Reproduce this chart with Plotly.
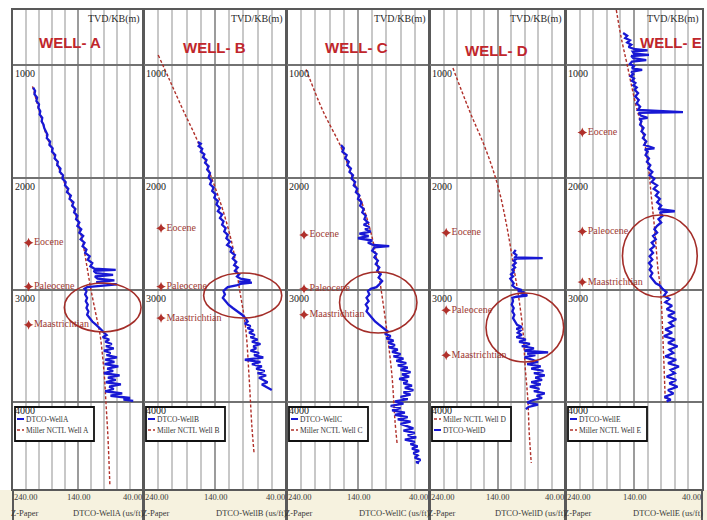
import plotly.graph_objects as go

W, H = 707, 520

# ---------------------------------------------------------------
# Log values: (TVD below KB in m, sonic DTCO in us/ft)
# ---------------------------------------------------------------
WELLS = ["A", "B", "C", "D", "E"]

# Miller normal compaction trend lines
A_NCTL = [(1190, 210), (1400, 200), (1600, 190), (1800, 177), (2000, 164), (2200, 151),
          (2400, 140), (2600, 132), (2800, 126), (3000, 120), (3200, 113), (3400, 106),
          (3600, 102), (3800, 99), (4000, 97), (4300, 94), (4730, 91)]
B_NCTL = [(911, 220), (1133, 204), (1400, 185), (1684, 164), (2000, 145), (2289, 129),
          (2618, 115), (2973, 106), (3329, 97), (3773, 92), (4218, 88), (4449, 85)]
C_NCTL = [(1040, 213), (1400, 190), (1729, 164), (2000, 148), (2289, 131), (2618, 117),
          (2973, 108), (3382, 99), (3773, 92), (4156, 88), (4360, 85)]
D_NCTL = [(1027, 206), (1400, 182), (1756, 157), (2084, 139), (2440, 126), (2796, 116),
          (3089, 108), (3382, 102), (3684, 99), (3978, 95), (4271, 93), (4538, 90)]
E_NCTL = [(511, 166), (751, 159), (1000, 150), (1311, 139), (1600, 127), (1900, 119),
          (2200, 114), (2500, 109), (2800, 105), (3000, 101), (3500, 97), (3990, 94)]

# Measured compressional slowness
A_DTCO = [(1200, 209), (1230, 206), (1260, 207), (1290, 203), (1320, 204), (1350, 200), (1380, 201),
          (1410, 198), (1440, 199), (1470, 195), (1500, 196), (1530, 193), (1560, 192), (1590, 190),
          (1620, 187), (1650, 188), (1680, 183), (1710, 184), (1740, 179), (1770, 180), (1800, 175),
          (1830, 176), (1860, 171), (1890, 172), (1920, 167), (1950, 168), (1980, 163), (2010, 164),
          (2040, 159), (2070, 160), (2100, 155), (2130, 157), (2160, 151), (2190, 153), (2220, 147),
          (2250, 149), (2280, 144), (2310, 146), (2340, 141), (2370, 143), (2400, 138), (2430, 141),
          (2460, 135), (2490, 138), (2520, 132), (2550, 136), (2580, 130), (2610, 133), (2640, 127),
          (2670, 129), (2700, 122), (2730, 125), (2760, 118), (2790, 121), (2810, 115), (2822, 82),
          (2830, 116), (2850, 112), (2865, 86), (2880, 114), (2900, 110), (2915, 84), (2930, 112),
          (2950, 80), (2965, 104), (2975, 126), (2990, 130), (3010, 127), (3040, 129), (3070, 126),
          (3100, 128), (3130, 125), (3160, 127), (3190, 124), (3220, 126), (3250, 122), (3280, 118),
          (3310, 112), (3340, 106), (3360, 103), (3380, 100), (3400, 96), (3420, 102), (3440, 92),
          (3460, 98), (3480, 88), (3500, 97), (3520, 85), (3540, 100), (3560, 90), (3580, 96),
          (3600, 80), (3620, 98), (3640, 84), (3660, 99), (3680, 78), (3700, 95), (3720, 86),
          (3740, 100), (3760, 76), (3780, 94), (3800, 82), (3820, 97), (3840, 74), (3860, 92),
          (3880, 85), (3900, 98), (3920, 72), (3940, 90), (3960, 60), (3975, 70), (3985, 55)]
B_DTCO = [(1684, 164), (1700, 160), (1720, 163), (1745, 158), (1770, 160), (1795, 155), (1820, 157),
          (1845, 152), (1870, 154), (1900, 149), (1930, 151), (1960, 147), (2000, 149), (2030, 145),
          (2060, 147), (2090, 142), (2120, 144), (2150, 139), (2180, 141), (2210, 136), (2240, 138),
          (2270, 133), (2300, 136), (2330, 130), (2360, 133), (2390, 128), (2420, 130), (2450, 125),
          (2480, 127), (2510, 122), (2540, 124), (2570, 119), (2600, 123), (2630, 116), (2660, 118),
          (2690, 112), (2720, 115), (2750, 110), (2780, 113), (2800, 108), (2830, 112), (2860, 106),
          (2880, 109), (2900, 104), (2915, 90), (2925, 106), (2935, 88), (2945, 104), (2960, 110),
          (2975, 122), (2990, 125), (3010, 128), (3040, 126), (3070, 129), (3100, 125), (3130, 121),
          (3160, 115), (3190, 108), (3220, 102), (3250, 97), (3280, 94), (3300, 98), (3320, 90),
          (3340, 94), (3360, 86), (3380, 92), (3400, 84), (3420, 90), (3440, 80), (3460, 88),
          (3480, 76), (3500, 86), (3520, 82), (3540, 90), (3560, 78), (3580, 85), (3600, 72),
          (3620, 98), (3640, 76), (3660, 88), (3680, 74), (3700, 82), (3720, 70), (3740, 80),
          (3760, 68), (3780, 78), (3800, 72), (3820, 66), (3840, 74), (3860, 68), (3880, 62),
          (3890, 60)]
C_DTCO = [(1711, 164), (1740, 160), (1770, 162), (1800, 156), (1830, 158), (1860, 153), (1890, 155),
          (1920, 150), (1950, 152), (1980, 147), (2010, 149), (2040, 144), (2070, 146), (2100, 141),
          (2130, 143), (2160, 138), (2190, 140), (2220, 135), (2250, 137), (2280, 132), (2310, 134),
          (2340, 129), (2370, 131), (2400, 126), (2420, 132), (2440, 124), (2460, 130), (2480, 122),
          (2500, 138), (2520, 125), (2540, 140), (2560, 120), (2580, 126), (2600, 118), (2610, 96),
          (2620, 117), (2650, 120), (2680, 114), (2710, 117), (2740, 112), (2770, 115), (2800, 110),
          (2830, 113), (2860, 108), (2890, 111), (2920, 106), (2950, 110), (2975, 114), (2990, 122),
          (3010, 126), (3040, 124), (3070, 128), (3100, 125), (3130, 129), (3160, 126), (3190, 128),
          (3220, 124), (3250, 120), (3280, 116), (3310, 110), (3340, 104), (3370, 98), (3390, 102),
          (3410, 94), (3430, 100), (3450, 90), (3470, 97), (3490, 88), (3510, 96), (3530, 84),
          (3550, 92), (3570, 80), (3590, 90), (3610, 76), (3630, 86), (3650, 72), (3670, 84),
          (3690, 70), (3710, 80), (3730, 66), (3750, 78), (3770, 68), (3790, 82), (3810, 70),
          (3830, 76), (3850, 64), (3870, 74), (3890, 62), (3910, 76), (3930, 66), (3950, 80),
          (3970, 70), (3990, 88), (4010, 76), (4030, 94), (4050, 80), (4070, 92), (4090, 74),
          (4110, 88), (4130, 70), (4150, 84), (4170, 66), (4190, 80), (4210, 72), (4230, 62),
          (4250, 76), (4270, 60), (4290, 70), (4310, 58), (4330, 74), (4350, 60), (4370, 66),
          (4390, 56), (4410, 64), (4430, 54), (4450, 62), (4470, 56), (4490, 60), (4510, 52),
          (4530, 58), (4540, 54)]
D_DTCO = [(2644, 113), (2670, 116), (2690, 112), (2710, 114), (2716, 73), (2722, 112), (2740, 116),
          (2760, 113), (2780, 117), (2800, 114), (2820, 118), (2840, 116), (2860, 120), (2880, 117),
          (2900, 121), (2920, 119), (2940, 116), (2960, 118), (2980, 114), (3000, 104), (3010, 110),
          (3020, 100), (3030, 106), (3040, 98), (3050, 96), (3060, 112), (3070, 118), (3100, 117),
          (3130, 119), (3160, 116), (3190, 118), (3220, 115), (3250, 117), (3280, 114), (3310, 111),
          (3330, 104), (3345, 112), (3360, 106), (3380, 110), (3400, 104), (3420, 112), (3440, 98),
          (3460, 108), (3480, 92), (3500, 104), (3520, 86), (3540, 100), (3555, 65), (3565, 96),
          (3580, 84), (3600, 100), (3620, 88), (3640, 80), (3660, 96), (3680, 76), (3700, 90),
          (3720, 72), (3740, 86), (3760, 70), (3780, 84), (3800, 74), (3820, 90), (3840, 76),
          (3860, 92), (3880, 78), (3900, 86), (3920, 70), (3940, 82), (3960, 74), (3980, 88),
          (4000, 96), (4020, 80), (4040, 94), (4060, 98)]
E_DTCO = [(716, 156), (740, 150), (760, 153), (780, 146), (800, 150), (820, 144), (840, 148),
          (860, 138), (870, 120), (880, 142), (900, 140), (910, 118), (920, 144), (940, 141),
          (956, 122), (970, 143), (990, 146), (1010, 140), (1030, 143), (1044, 128), (1060, 144),
          (1080, 141), (1100, 145), (1120, 140), (1140, 143), (1160, 138), (1180, 141), (1200, 136),
          (1220, 139), (1250, 134), (1280, 138), (1310, 133), (1340, 136), (1370, 131), (1400, 134),
          (1418, 68), (1425, 133), (1450, 130), (1470, 120), (1480, 132), (1500, 129), (1530, 131),
          (1560, 126), (1590, 129), (1620, 124), (1650, 127), (1680, 122), (1710, 125), (1740, 110),
          (1750, 124), (1770, 120), (1800, 123), (1830, 118), (1860, 121), (1890, 116), (1920, 119),
          (1950, 113), (1980, 117), (2010, 110), (2040, 114), (2070, 106), (2100, 111), (2130, 104),
          (2160, 108), (2190, 102), (2220, 106), (2250, 100), (2280, 104), (2300, 80), (2310, 102),
          (2340, 98), (2370, 104), (2400, 100), (2430, 106), (2460, 110), (2490, 106), (2520, 112),
          (2550, 108), (2580, 114), (2610, 110), (2640, 116), (2670, 112), (2700, 117), (2730, 113),
          (2760, 118), (2790, 114), (2820, 117), (2850, 113), (2880, 116), (2910, 112), (2940, 108),
          (2960, 102), (2990, 98), (3020, 92), (3050, 96), (3080, 88), (3110, 94), (3140, 84),
          (3170, 92), (3200, 80), (3230, 90), (3260, 78), (3290, 88), (3320, 82), (3350, 94),
          (3380, 84), (3410, 96), (3440, 80), (3470, 90), (3500, 76), (3530, 88), (3560, 82),
          (3590, 94), (3620, 78), (3650, 90), (3680, 74), (3710, 86), (3740, 80), (3770, 92),
          (3800, 78), (3830, 88), (3860, 76), (3890, 90), (3920, 82), (3950, 95), (3975, 86),
          (3990, 92)]

# Formation tops (m)
FORMATIONS = ["Eocene", "Paleocene", "Maastrichtian"]
A_TOPS = [2580, 2970, 3310]
B_TOPS = [2450, 2970, 3250]
C_TOPS = [2510, 2990, 3220]
D_TOPS = [2490, 3180, 3580]
E_TOPS = [1600, 2480, 2930]

# Overpressure zones circled on each track: (DT left, DT right, depth top, depth bottom)
A_ZONE = (161, 43, 2938, 3373)
B_ZONE = (156, 46, 2849, 3249)
C_ZONE = (166, 57, 2840, 3382)
D_ZONE = (157, 42, 3027, 3640)
E_ZONE = (157, 47, 2333, 3062)

DEPTH_TICKS = [1000, 2000, 3000, 4000]
DT_TICKS = [240, 140, 40]
DT_TICK_TEXT = ["240.00", "140.00", "40.00"]

NCTL = [A_NCTL, B_NCTL, C_NCTL, D_NCTL, E_NCTL]
DTCO = [A_DTCO, B_DTCO, C_DTCO, D_DTCO, E_DTCO]
TOPS = [A_TOPS, B_TOPS, C_TOPS, D_TOPS, E_TOPS]
ZONES = [A_ZONE, B_ZONE, C_ZONE, D_ZONE, E_ZONE]

# ---------------------------------------------------------------
# Layout geometry (pixels) and styling
# ---------------------------------------------------------------
PANEL_X = [(13, 143), (144, 286), (287, 429), (430, 565), (566, 702)]
PLOT_TOP, PLOT_BOTTOM = 10, 489
DEPTH_RANGE = [4769, 511]
DT_RANGE = [240, 40]
TITLE_POS = [(152, 804), (141, 840), (142, 840), (141, 867), (86, 804)]
LEGEND_NCTL_FIRST = [False, False, False, True, False]
FORM_DT = 216

BLUE = "#1818d4"
RED_DASH = "#b0302a"
ZONE_RED = "#a32d28"
TITLE_RED = "#c0262c"
SERIF = "Liberation Serif, Times New Roman, serif"
SANS = "Liberation Sans, Arial, sans-serif"


def px(x):
    return x / W


def py(y):
    return 1 - y / H


fig = go.Figure()
annotations = []
shapes = []

# footer band with the scale labels
shapes.append(dict(type="rect", xref="paper", yref="paper", x0=0, x1=1,
                   y0=0, y1=py(PLOT_BOTTOM + 1), fillcolor="#f6f2df",
                   line=dict(width=0), layer="below"))

for i, well in enumerate(WELLS):
    n = i + 1
    sfx = "" if n == 1 else str(n)
    xa, ya = "x" + sfx, "y" + sfx
    L, R = PANEL_X[i]

    fig.update_layout({
        "xaxis" + sfx: dict(domain=[px(L), px(R)], range=DT_RANGE, anchor=ya,
                            tick0=40, dtick=100, showgrid=True, gridcolor="#9c9c9c",
                            gridwidth=1.5,
                            minor=dict(tick0=40, dtick=20, showgrid=True,
                                       gridcolor="#c8c8c8", gridwidth=1.5),
                            showticklabels=False, ticks="", zeroline=False,
                            showline=True, mirror=True, linecolor="#595959",
                            linewidth=2, fixedrange=True),
        "yaxis" + sfx: dict(domain=[py(PLOT_BOTTOM), py(PLOT_TOP)], range=DEPTH_RANGE,
                            anchor=xa, tick0=0, dtick=1000, showgrid=True,
                            gridcolor="#727272", gridwidth=2, showticklabels=False,
                            ticks="", zeroline=False, showline=True, mirror=True,
                            linecolor="#595959", linewidth=2, fixedrange=True),
    })

    nctl = NCTL[i]
    dtco = DTCO[i]
    fig.add_trace(go.Scatter(
        x=[p[1] for p in nctl], y=[p[0] for p in nctl], xaxis=xa, yaxis=ya,
        mode="lines", line=dict(color=RED_DASH, width=1.4, dash="3px,2px", shape="spline"),
        name="Miller NCTL Well " + well, showlegend=False, hoverinfo="skip"))
    fig.add_trace(go.Scatter(
        x=[p[1] for p in dtco], y=[p[0] for p in dtco], xaxis=xa, yaxis=ya,
        mode="lines", line=dict(color=BLUE, width=2.3),
        name="DTCO-Well" + well, showlegend=False, hoverinfo="skip"))
    fig.add_trace(go.Scatter(
        x=[FORM_DT] * len(TOPS[i]), y=TOPS[i], xaxis=xa, yaxis=ya,
        mode="markers+text", text=FORMATIONS, textposition="middle right",
        marker=dict(symbol="star-diamond", size=7, color=RED_DASH),
        textfont=dict(family=SERIF, size=10, color="#9e3a33"),
        showlegend=False, hoverinfo="skip"))

    # circled overpressure zone
    z = ZONES[i]
    shapes.append(dict(type="circle", xref=xa, yref=ya, x0=z[0], x1=z[1], y0=z[2], y1=z[3],
                       line=dict(color=ZONE_RED, width=1.6)))

    # depth labels just under each depth line
    for d in DEPTH_TICKS:
        annotations.append(dict(xref=xa, yref=ya, x=DT_RANGE[0], y=d, text=str(d),
                                xanchor="left", yanchor="top", showarrow=False,
                                xshift=0, yshift=-1,
                                font=dict(family=SERIF, size=10, color="#1a1a1a")))

    # track header
    annotations.append(dict(xref=xa + " domain", yref=ya + " domain", x=1, y=1,
                            text="TVD/KB(m)", xanchor="right", yanchor="top",
                            showarrow=False, xshift=-1, yshift=-1,
                            font=dict(family=SERIF, size=10, color="#2a2a2a")))
    tx, ty = TITLE_POS[i]
    annotations.append(dict(xref=xa, yref=ya, x=tx, y=ty, text="<b>WELL- " + well + "</b>",
                            showarrow=False, xanchor="center", yanchor="middle",
                            font=dict(family=SANS, size=15, color=TITLE_RED)))

    # legend box
    bx0, bx1, by0, by1 = L + 2, L + 81, 407, 441
    shapes.append(dict(type="rect", xref="paper", yref="paper", x0=px(bx0), x1=px(bx1),
                       y0=py(by1), y1=py(by0), fillcolor="white",
                       line=dict(color="#111111", width=1.8)))
    entries = [("DTCO-Well" + well, "dtco"), ("Miller NCTL Well " + well, "nctl")]
    if LEGEND_NCTL_FIRST[i]:
        entries = entries[::-1]
    for row_y, (label, kind) in zip([419, 430], entries):
        if kind == "dtco":
            ln = dict(color=BLUE, width=2)
        else:
            ln = dict(color=RED_DASH, width=1.6, dash="3px,2px")
        shapes.append(dict(type="line", xref="paper", yref="paper",
                           x0=px(L + 4), x1=px(L + 11), y0=py(row_y), y1=py(row_y), line=ln))
        annotations.append(dict(xref="paper", yref="paper", x=px(L + 11), y=py(row_y),
                                text=label, xanchor="left", yanchor="middle", showarrow=False,
                                font=dict(family=SERIF, size=7.5, color="#333333")))

    # footer scale text
    anchors = ["left", "center", "right"]
    xs = [px(L - 1), px((L + R) / 2), px(R + 1)]
    for v, t, xx, anc in zip(DT_TICKS, DT_TICK_TEXT, xs, anchors):
        annotations.append(dict(xref="paper", yref="paper", x=xx, y=py(497), text=t,
                                xanchor=anc, yanchor="middle", showarrow=False,
                                font=dict(family=SERIF, size=8.5, color="#3a3a3a")))
    annotations.append(dict(xref="paper", yref="paper", x=px(L - 4), y=py(513),
                            text="Z-Paper", xanchor="left", yanchor="middle", showarrow=False,
                            font=dict(family=SERIF, size=8.5, color="#3a3a3a")))
    annotations.append(dict(xref="paper", yref="paper", x=px(R + 3), y=py(513),
                            text="DTCO-Well" + well + " (us/ft)", xanchor="right",
                            yanchor="middle", showarrow=False,
                            font=dict(family=SERIF, size=8.5, color="#3a3a3a")))
    # track separators through the footer
    for edge in (L, R):
        shapes.append(dict(type="line", xref="paper", yref="paper", x0=px(edge), x1=px(edge),
                           y0=0, y1=py(PLOT_BOTTOM), line=dict(color="#595959", width=2)))

fig.update_layout(
    width=W, height=H,
    margin=dict(l=0, r=0, t=0, b=0),
    paper_bgcolor="white", plot_bgcolor="white",
    showlegend=False,
    annotations=annotations,
    shapes=shapes,
)

fig.write_html("out.html")
